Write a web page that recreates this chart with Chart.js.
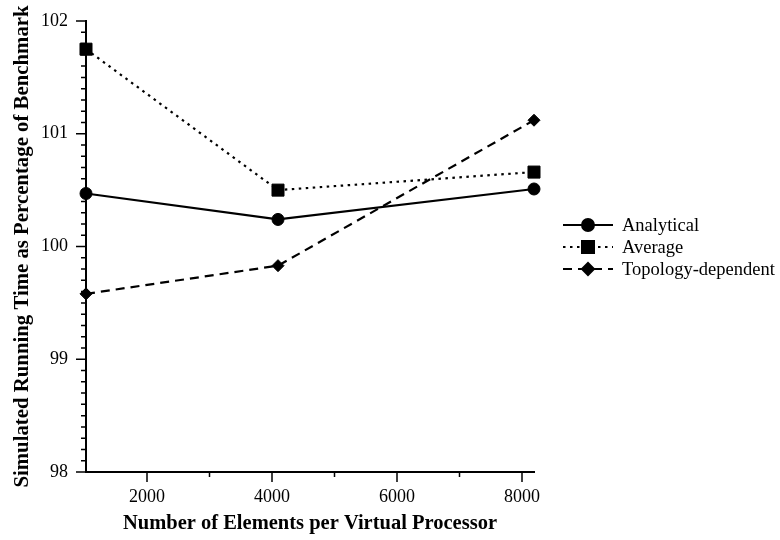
<!DOCTYPE html>
<html>
<head>
<meta charset="utf-8">
<script src="https://cdn.jsdelivr.net/npm/chart.js@4"></script>
<style>
  html, body { margin: 0; padding: 0; background: #fff; }
  #wrap { width: 780px; height: 540px; position: relative; }
</style>
</head>
<body>
<div id="wrap"><canvas id="chart"></canvas></div>
<script>
// Data
const elements = [1024, 4096, 8192];
const analytical = [100.47, 100.24, 100.51];
const average = [101.75, 100.50, 100.66];
const topology = [99.58, 99.83, 101.12];

const seriesNames = ['Analytical', 'Average', 'Topology-dependent'];
const xTicks = [2000, 4000, 6000, 8000];
const xMinorTicks = [3000, 5000, 7000];
const yTicks = [98, 99, 100, 101, 102];

const FONT = '"Liberation Serif", "Times New Roman", serif';

const toPoints = vals => vals.map((v, i) => ({ x: elements[i], y: v }));

const styles = [
    { dash: [], point: 'circle', radius: 6 },
    { dash: [2.5, 4.5], point: 'rect', radius: 8.5 },
    { dash: [9, 6], point: 'rectRot', radius: 6 }
];

// tick marks + legend drawn against the chart scales
const extras = {
    id: 'extras',
    afterDraw(chart) {
        const { ctx, scales: { x, y } } = chart;
        ctx.save();
        ctx.strokeStyle = '#000';
        ctx.lineWidth = 1.5;
        ctx.beginPath();
        xTicks.forEach(v => {
            const px = x.getPixelForValue(v);
            ctx.moveTo(px, y.bottom);
            ctx.lineTo(px, y.bottom + 10);
        });
        xMinorTicks.forEach(v => {
            const px = x.getPixelForValue(v);
            ctx.moveTo(px, y.bottom);
            ctx.lineTo(px, y.bottom + 5);
        });
        yTicks.forEach(v => {
            const py = y.getPixelForValue(v);
            ctx.moveTo(x.left, py);
            ctx.lineTo(x.left - 10, py);
        });
        for (let k = 981; k < 1020; k++) {
            if (k % 10 === 0) continue;
            const py = y.getPixelForValue(k / 10);
            ctx.moveTo(x.left, py);
            ctx.lineTo(x.left - 5, py);
        }
        ctx.stroke();

        // legend
        const lx0 = 563, lx1 = 613, tx = 622;
        const rows = [225, 247, 269];
        chart.data.datasets.forEach((ds, i) => {
            const yy = rows[i];
            ctx.lineWidth = 2;
            ctx.setLineDash(styles[i].dash);
            ctx.beginPath();
            ctx.moveTo(lx0, yy);
            ctx.lineTo(lx1, yy);
            ctx.stroke();
            ctx.setLineDash([]);
            Chart.helpers.drawPoint(ctx, {
                pointStyle: styles[i].point,
                radius: styles[i].radius,
                borderWidth: 1
            }, (lx0 + lx1) / 2, yy);
            ctx.fillStyle = '#000';
            ctx.font = '18.5px ' + FONT;
            ctx.textBaseline = 'middle';
            ctx.textAlign = 'left';
            ctx.fillText(ds.label, tx, yy + 1);
        });
        ctx.restore();
    }
};

const datasets = [analytical, average, topology].map((vals, i) => ({
    label: seriesNames[i],
    data: toPoints(vals),
    borderColor: '#000',
    backgroundColor: '#000',
    borderWidth: 2.2,
    borderDash: styles[i].dash,
    pointStyle: styles[i].point,
    pointRadius: styles[i].radius,
    pointBorderWidth: 1,
    pointBackgroundColor: '#000',
    tension: 0,
    clip: false
}));

new Chart(document.getElementById('chart'), {
    type: 'line',
    data: { datasets },
    options: {
        responsive: true,
        maintainAspectRatio: false,
        animation: false,
        layout: { padding: { top: 21, right: 246, bottom: 0, left: 0 } },
        plugins: { legend: { display: false }, tooltip: { enabled: false } },
        scales: {
            x: {
                type: 'linear',
                min: 1024,
                max: 8192,
                afterBuildTicks: s => { s.ticks = xTicks.map(v => ({ value: v })); },
                afterFit: s => { s.height = 68; },
                ticks: {
                    color: '#000',
                    font: { family: FONT, size: 18 },
                    padding: 4,
                    maxRotation: 0,
                    callback: v => String(v)
                },
                grid: { drawOnChartArea: false, tickColor: 'rgba(0,0,0,0)', tickLength: 10 },
                border: { color: '#000', width: 2 },
                title: {
                    display: true,
                    text: 'Number of Elements per Virtual Processor',
                    color: '#000',
                    font: { family: FONT, size: 20.5, weight: 'bold' },
                    padding: { top: 4, bottom: 4 }
                }
            },
            y: {
                min: 98,
                max: 102,
                afterBuildTicks: s => { s.ticks = yTicks.map(v => ({ value: v })); },
                afterFit: s => { s.width = 86; },
                ticks: { color: '#000', font: { family: FONT, size: 18 }, padding: 8 },
                grid: { drawOnChartArea: false, tickColor: 'rgba(0,0,0,0)', tickLength: 10 },
                border: { color: '#000', width: 2 },
                title: {
                    display: true,
                    text: 'Simulated Running Time as Percentage of Benchmark',
                    color: '#000',
                    font: { family: FONT, size: 20.8, weight: 'bold' },
                    padding: { top: 10, bottom: 0 }
                }
            }
        }
    },
    plugins: [extras]
});
</script>
</body>
</html>
